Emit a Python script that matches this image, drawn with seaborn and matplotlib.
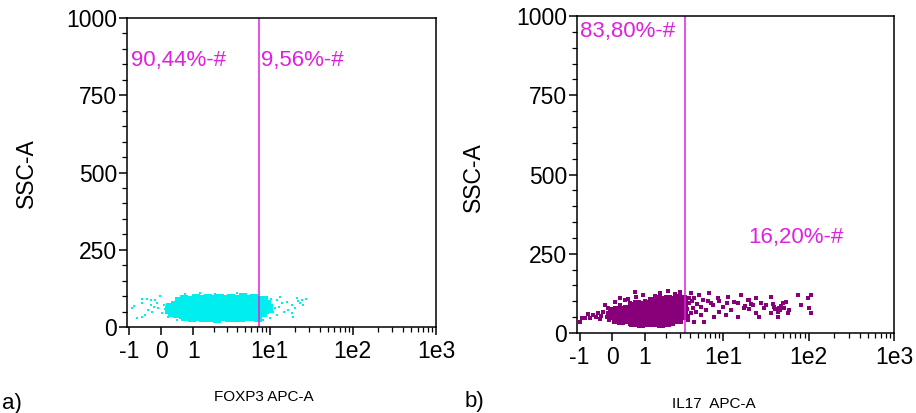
import matplotlib
matplotlib.use('Agg')
import matplotlib.pyplot as plt
import seaborn as sns
import pandas as pd

# Data

# a) FOXP3 APC-A vs SSC-A, dense core of the population
foxp3_core_x = [0.5, 0.68, 0.9, 1.12, 1.4, 1.7, 2.05, 2.45, 2.9, 3.4, 4.0, 4.7, 5.5, 6.4, 7.4, 8.6,
                0.25, 0.4, 0.58, 0.78, 1.0, 1.25, 1.55, 1.9, 2.25, 2.7, 3.15, 3.7, 4.35, 5.1, 5.95, 6.9, 8.0, 9.2,
                0.2, 0.33, 0.5, 0.7, 0.9, 1.12, 1.4, 1.72, 2.08, 2.48, 2.95, 3.45, 4.05, 4.75, 5.55, 6.45, 7.5, 8.7, 9.8,
                0.3, 0.45, 0.62, 0.82, 1.05, 1.3, 1.6, 1.95, 2.35, 2.8, 3.3, 3.85, 4.5, 5.25, 6.1, 7.1, 8.3,
                0.7, 0.95, 1.2, 1.5, 1.85, 2.25, 2.7, 3.2, 3.8, 4.45, 5.2, 6.1, 7.2]
foxp3_core_y = [85, 90, 88, 93, 89, 94, 90, 95, 91, 94, 92, 96, 90, 93, 88, 86,
                66, 72, 75, 70, 74, 71, 76, 72, 74, 70, 75, 73, 71, 76, 72, 74, 70, 73,
                55, 58, 54, 57, 55, 59, 56, 53, 57, 55, 58, 54, 56, 59, 55, 57, 54, 56, 58,
                44, 41, 39, 42, 40, 38, 41, 39, 42, 38, 40, 43, 39, 41, 38, 42, 44,
                32, 29, 31, 28, 30, 27, 31, 29, 30, 28, 31, 33, 30]

# a) scattered events around the core
foxp3_sparse_x = [-0.89, -0.71, -0.55, -0.55, -0.40, -0.28, -0.17, -0.11, -0.37, -0.25, -0.46,
                  -0.08, 0.03, 0.06, -0.55, 0.17, 0.19, -0.82, -0.03, -0.2, 0.1, -0.3,
                  0.71, 1.3, 2.1, 3.3, 5.0, 1.7, 4.0,
                  1.3, 2.45, 0.45, 3.9, 5.8,
                  8.8, 9.6, 10.7, 12.3, 14.1, 16.2, 18.7, 21.4, 22.0, 23.3, 16.7, 18.7, 19.2,
                  12.3, 10.2, 8.4, 24.6, 25.3, 27.4, 13.4, 11.6, 15.0, 10.5, 11.0, 13.0, 9.9, 20.0]
foxp3_sparse_y = [61, 29, 91, 78, 91, 87, 87, 78, 55, 49, 39,
                  61, 45, 71, 32, 52, 32, 68, 100, 66, 58, 70,
                  107, 110, 107, 104, 107, 104, 109,
                  19, 19, 24, 21, 23,
                  94, 81, 71, 87, 78, 81, 71, 94, 84, 78, 55, 45, 32,
                  39, 29, 23, 87, 71, 91, 97, 61, 49, 90, 50, 65, 62, 60]

# b) IL17 APC-A vs SSC-A, dense core
il17_core_x = [1.3, 1.55, 1.85, 2.15, 2.5, 2.9, 3.3,
               0.55, 0.72, 0.9, 1.1, 1.32, 1.58, 1.88, 2.2, 2.55, 2.95, 3.35,
               0.0, 0.13, 0.27, 0.42, 0.58, 0.75, 0.93, 1.13, 1.36, 1.62, 1.92, 2.25, 2.6, 3.0, 3.4,
               -0.05, 0.08, 0.22, 0.37, 0.53, 0.7, 0.88, 1.08, 1.3, 1.55, 1.84, 2.15, 2.5, 2.9, 3.3,
               0.1, 0.25, 0.4, 0.56, 0.74, 0.92, 1.12, 1.35, 1.6, 1.9, 2.2, 2.55, 2.95,
               0.6, 0.85, 1.1, 1.4, 1.75, 2.1]
il17_core_y = [101, 106, 103, 108, 104, 110, 106,
               86, 90, 87, 92, 88, 91, 86, 90, 93, 88, 91,
               70, 74, 71, 75, 72, 69, 73, 76, 71, 74, 70, 73, 75, 71, 74,
               57, 54, 58, 55, 52, 56, 59, 54, 57, 55, 58, 53, 56, 59, 55,
               42, 39, 41, 38, 43, 40, 37, 41, 39, 42, 38, 41, 40,
               31, 29, 32, 30, 28, 31]

# b) scattered events
il17_sparse_x = [-0.90, -0.80, -0.63, -0.54, -0.45, -0.39, -0.33, -0.25, -0.19, -0.14, -0.11,
                 -1.0, -0.7, -0.3, -0.08,
                 0.08, 0.22, 0.36, 0.45, 0.66, 0.70, 0.94, 1.45, 1.70, 2.15, 2.66, 3.07, 0.5, 0.2, 1.0,
                 0.51, 1.02, 1.70, 2.45, 0.3,
                 3.86, 4.31, 4.08, 4.08, 4.44, 4.69, 5.10, 5.69, 5.39, 6.18, 6.71, 7.09, 7.69,
                 8.59, 8.83, 9.83, 10.7, 11.3, 12.2, 13.3, 14.8, 16.0, 17.4, 19.4, 3.75, 4.44, 5.85,
                 19.9, 22.2, 24.1, 27.6, 29.9, 31.6, 36.2, 39.2, 43.8, 44.9, 50.1, 54.3, 57.4, 59.0,
                 75.2, 81.6, 98.7, 107, 101, 107, 26.2, 24.1, 43.8, 36.2,
                 40, 46, 52, 48, 38, 18, 21, 20,
                 4.2, 4.9, 3.9, 5.5, 6.5, 7.5, 9.0, 11, 15, 3.7, 3.8]
il17_sparse_y = [47, 47, 47, 57, 50, 63, 44, 66, 88, 50, 79,
                 35, 60, 55, 40,
                 98, 110, 104, 107, 129, 114, 120, 117, 126, 132, 123, 129, 95, 88, 100,
                 28, 25, 25, 28, 30,
                 95, 79, 63, 126, 110, 66, 120, 104, 57, 73, 126, 95, 50,
                 110, 66, 82, 57, 114, 73, 98, 50, 120, 79, 104, 41, 35, 35,
                 104, 88, 110, 95, 79, 88, 114, 82, 66, 79, 95, 98, 63, 73,
                 120, 88, 110, 120, 79, 63, 50, 63, 50, 63,
                 75, 72, 80, 85, 90, 85, 90, 75,
                 100, 90, 110, 83, 100, 88, 100, 95, 95, 75, 55]

# axis ticks
x_major_ticks = [-1, 0, 1, 10, 100, 1000]
x_major_labels = ['-1', '0', '1', '1e1', '1e2', '1e3']
x_minor_ticks = [2, 3, 4, 5, 6, 7, 8, 9, 20, 30, 40, 50, 60, 70, 80, 90,
                 200, 300, 400, 500, 600, 700, 800, 900]
y_major_ticks = [0, 250, 500, 750, 1000]
y_minor_ticks = [50, 100, 150, 200, 300, 350, 400, 450, 550, 600, 650, 700, 800, 850, 900, 950]

# gates
foxp3_gate = 7.5
il17_gate = 3.5

GATE_COLOR = '#E020E0'
CYAN = '#00EEEE'
PURPLE = '#87007A'

sns.set_style('ticks')
plt.rcParams['font.family'] = ['Liberation Sans', 'DejaVu Sans']
plt.rcParams['axes.edgecolor'] = 'black'
plt.rcParams['xtick.color'] = 'black'
plt.rcParams['ytick.color'] = 'black'
plt.rcParams['text.color'] = 'black'

fig = plt.figure(figsize=(9.16, 4.13), dpi=100)
ax_a = fig.add_axes([127 / 916, 1 - 327 / 413, 309 / 916, 309 / 413])
ax_b = fig.add_axes([577 / 916, 1 - 333 / 413, 317 / 916, 317 / 413])


def style_axes(ax):
    ax.set_xscale('asinh', linear_width=1.0)
    ax.set_xlim(-1.1, 1000)
    ax.set_ylim(0, 1000)
    ax.set_xticks(x_major_ticks)
    ax.set_xticklabels(x_major_labels)
    ax.set_xticks(x_minor_ticks, minor=True)
    ax.set_yticks(y_major_ticks)
    ax.set_yticks(y_minor_ticks, minor=True)
    ax.tick_params(which='major', direction='out', length=6, width=1.1, labelsize=16.5)
    ax.tick_params(which='minor', direction='out', length=3.5, width=0.9)
    ax.tick_params(axis='y', which='major', pad=1)
    ax.tick_params(axis='x', which='major', pad=3)
    for spine in ax.spines.values():
        spine.set_visible(True)
        spine.set_linewidth(1.1)
        spine.set_color('black')
    ax.set_xlabel('')
    ax.set_ylabel('')


# Panel a
sns.scatterplot(x=foxp3_core_x, y=foxp3_core_y, ax=ax_a, marker='s', s=32,
                color=CYAN, linewidth=0)
sns.scatterplot(x=foxp3_sparse_x, y=foxp3_sparse_y, ax=ax_a, marker='s', s=4,
                color=CYAN, linewidth=0)
ax_a.axvline(foxp3_gate, color=GATE_COLOR, linewidth=1.1)
style_axes(ax_a)
ax_a.text(-0.93, 861, '90,44%-#', color=GATE_COLOR, fontsize=16, ha='left', va='center')
ax_a.text(7.9, 861, '9,56%-#', color=GATE_COLOR, fontsize=16, ha='left', va='center')

# Panel b
sns.scatterplot(x=il17_core_x, y=il17_core_y, ax=ax_b, marker='s', s=30,
                color=PURPLE, linewidth=0)
sns.scatterplot(x=il17_sparse_x, y=il17_sparse_y, ax=ax_b, marker='s', s=5,
                color=PURPLE, linewidth=0)
ax_b.axvline(il17_gate, color=GATE_COLOR, linewidth=1.1)
style_axes(ax_b)
ax_b.text(-1.0, 950, '83,80%-#', color=GATE_COLOR, fontsize=16, ha='left', va='center')
ax_b.text(19.4, 300, '16,20%-#', color=GATE_COLOR, fontsize=16, ha='left', va='center')

# axis titles and panel letters
fig.text(26 / 916, 1 - 173 / 413, 'SSC-A', rotation=90, fontsize=16.5, ha='center', va='center')
fig.text(473 / 916, 1 - 177 / 413, 'SSC-A', rotation=90, fontsize=16.5, ha='center', va='center')
fig.text(264 / 916, 1 - 397 / 413, 'FOXP3 APC-A', fontsize=11, ha='center', va='center')
fig.text(714 / 916, 1 - 404 / 413, 'IL17  APC-A', fontsize=11, ha='center', va='center')
fig.text(2 / 916, 1 - 403 / 413, 'a)', fontsize=16, ha='left', va='center')
fig.text(465 / 916, 1 - 401 / 413, 'b)', fontsize=16, ha='left', va='center')

fig.savefig('out.png', dpi=100)
